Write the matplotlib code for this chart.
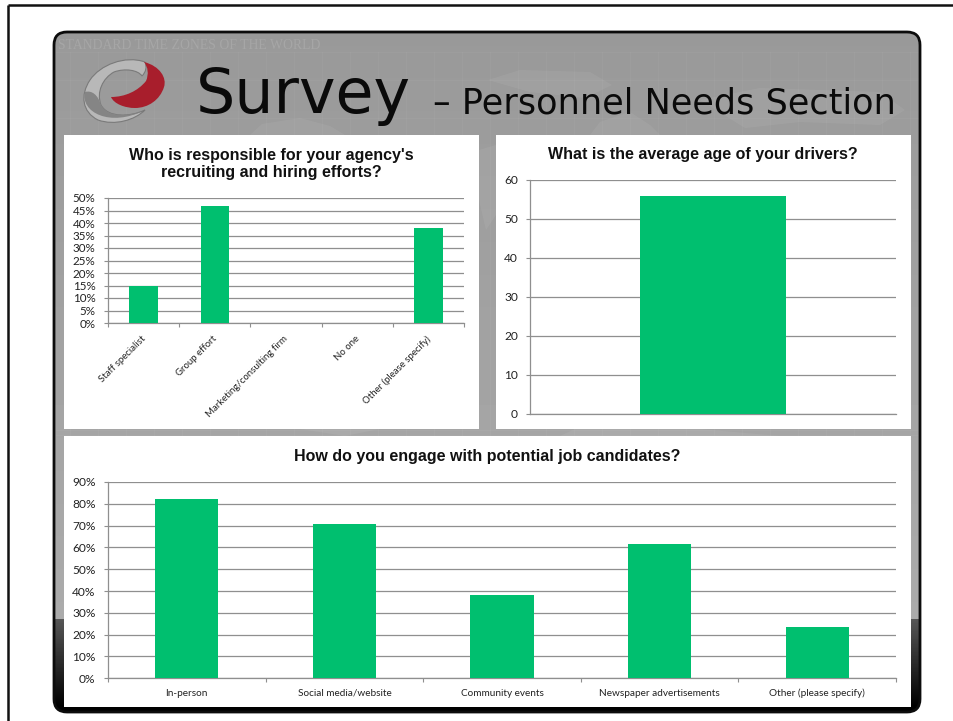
import numpy as np
import matplotlib
matplotlib.use("Agg")
import matplotlib.pyplot as plt
from matplotlib.patches import FancyBboxPatch, PathPatch, Rectangle
from matplotlib.path import Path
from matplotlib.transforms import ScaledTranslation

W, H = 954, 721
GREEN = "#00bf6f"
GRID = "#8f8f8f"
TICK_FONT = "Lato"

who_labels = ["Staff specialist", "Group effort", "Marketing/consulting firm", "No one", "Other (please specify)"]
who_values = [14.7, 47.0, 0, 0, 38.2]
who_ticks = [0, 5, 10, 15, 20, 25, 30, 35, 40, 45, 50]

age_values = [55.9]
age_ticks = [0, 10, 20, 30, 40, 50, 60]

engage_labels = ["In-person", "Social media/website", "Community events", "Newspaper advertisements", "Other (please specify)"]
engage_values = [82.4, 70.6, 38.2, 61.8, 23.5]
engage_ticks = [0, 10, 20, 30, 40, 50, 60, 70, 80, 90]

fig = plt.figure(figsize=(W / 100, H / 100), dpi=100, facecolor="white")

# whole page in pixel coords, for the slide behind the charts
bg = fig.add_axes([0, 0, 1, 1])
bg.axis("off")

# page border
bg.plot([8, 8], [721, 5], color="#111111", lw=1.8, solid_capstyle="butt")
bg.plot([8, 954], [5, 5], color="#111111", lw=1.8, solid_capstyle="butt")

# slide background, gray then dark fade at the bottom
rows = np.linspace(32, 712, 680)
shade = np.where(rows < 619, 0.60 + (rows - 32) / 587 * 0.07, 0.34 * (1 - (rows - 619) / 88).clip(0, 1))
img = bg.imshow(shade.reshape(-1, 1), extent=[54, 920, 712, 32], cmap="gray", vmin=0, vmax=1, aspect="auto", zorder=1)
frame = FancyBboxPatch((66, 44), 842, 656, boxstyle="round,pad=12,rounding_size=13", fc="none", ec="#0c0c0c", lw=2.0, zorder=3)
bg.add_patch(frame)
img.set_clip_path(frame)

# faint map lines
for x in np.arange(70, 920, 28):
    bg.plot([x, x], [52, 619], color="white", alpha=0.04, lw=0.7, zorder=1.5)
for y in [52, 80, 118, 430, 435]:
    bg.plot([56, 918], [y, y], color="white", alpha=0.04, lw=0.7, zorder=1.5)
bg.text(58, 45.5, "STANDARD TIME ZONES OF THE WORLD", family="Liberation Serif", fontsize=9.9,
        color="white", alpha=0.13, va="center", ha="left", zorder=2)

# lighter land masses
land = [
    [(250, 135), (262, 124), (300, 118), (330, 126), (345, 135)],
    [(488, 80), (520, 70), (590, 72), (612, 85), (585, 98), (530, 92)],
    [(590, 135), (600, 122), (630, 112), (650, 125), (660, 135)],
    [(700, 100), (760, 88), (880, 92), (905, 110), (880, 125), (800, 122), (745, 128)],
    [(479, 150), (496, 145), (496, 215), (486, 230), (479, 200)],
    [(575, 429), (700, 429), (780, 436), (560, 436)],
    [(300, 429), (380, 429), (345, 436)],
]
for pts in land:
    bg.fill(*zip(*pts), color="white", alpha=0.06, lw=0, zorder=1.6)

# logo
M, C = Path.MOVETO, Path.CURVE4
swoosh = Path(
    [(145, 62), (125, 55), (100, 65), (90, 80), (80, 95), (82, 112), (98, 120), (115, 126), (135, 120), (145, 110),
     (130, 117), (108, 118), (101, 105), (96, 92), (103, 78), (114, 72), (125, 68), (138, 70), (142, 76),
     (146, 72), (147, 67), (145, 62)],
    [M] + [C] * 21,
)
bg.add_patch(PathPatch(swoosh, fc="#b8b8b8", ec="#7a7a7a", lw=0.8, zorder=4))
shadow = Path(
    [(85, 92), (80, 112), (110, 128), (145, 110), (130, 117), (108, 118), (101, 105), (98, 95), (92, 90), (85, 92)],
    [M] + [C] * 9,
)
bg.add_patch(PathPatch(shadow, fc="#858585", ec="none", zorder=4.1))
red = Path(
    [(144, 62), (160, 66), (167, 78), (164, 87), (160, 100), (148, 108), (135, 108),
     (125, 108), (114, 104), (111, 97), (125, 97), (138, 91), (146, 81), (149, 74), (148, 67), (144, 62)],
    [M] + [C] * 15,
)
bg.add_patch(PathPatch(red, fc="#a81e2c", ec="none", zorder=4.2))

# slide title
bg.text(196, 113, "Survey", fontsize=44.5, color="#0a0a0a", family="DejaVu Sans", va="baseline", ha="left", zorder=5)
bg.text(433, 113, "– Personnel Needs Section", fontsize=25.3, color="#0a0a0a", family="DejaVu Sans",
        va="baseline", ha="left", zorder=5)

# white chart panels
for x0, y0, x1, y1 in [(64, 135, 479, 429), (496, 135, 911, 429), (64, 436, 911, 707)]:
    bg.add_patch(Rectangle((x0, y0), x1 - x0, y1 - y0, fc="white", ec="none", zorder=6))
bg.set_xlim(0, W)
bg.set_ylim(H, 0)


def chart_axes(x0, x1, ytop, ybottom):
    ax = fig.add_axes([x0 / W, 1 - ybottom / H, (x1 - x0) / W, (ybottom - ytop) / H])
    ax.patch.set_visible(False)
    for side in ["top", "right"]:
        ax.spines[side].set_visible(False)
    for side in ["left", "bottom"]:
        ax.spines[side].set_color(GRID)
        ax.spines[side].set_linewidth(0.9)
    ax.set_axisbelow(True)
    ax.yaxis.grid(True, color=GRID, lw=0.9)
    ax.tick_params(axis="y", length=3, width=0.8, color=GRID, pad=6, labelsize=8.6, labelcolor="#222222")
    ax.tick_params(axis="x", which="major", length=3, width=0.8, color=GRID)
    ax.tick_params(axis="x", which="minor", length=0, labelcolor="#222222")
    return ax


def category_setup(ax, labels, **kw):
    n = len(labels)
    ax.set_xlim(-0.5, n - 0.5)
    ax.set_xticks(np.arange(n + 1) - 0.5)
    ax.set_xticklabels([])
    ax.set_xticks(np.arange(n), minor=True)
    ax.set_xticklabels(labels, minor=True, family=TICK_FONT, **kw)


# chart 1
ax1 = chart_axes(108, 464, 198, 323)
ax1.bar(range(len(who_values)), who_values, width=0.4, color=GREEN, zorder=3)
category_setup(ax1, who_labels, fontsize=6.9, rotation=45, ha="right", rotation_mode="anchor")
ax1.tick_params(axis="x", which="minor", pad=8)
for lab in ax1.get_xticklabels(minor=True):
    lab.set_transform(lab.get_transform() + ScaledTranslation(-2.5 / 100, 0, fig.dpi_scale_trans))
ax1.set_ylim(0, 50)
ax1.set_yticks(who_ticks)
ax1.set_yticklabels([f"{t}%" for t in who_ticks], family=TICK_FONT)
ax1.tick_params(axis="y", pad=6, labelsize=8.4)
bg.text(271, 164, "Who is responsible for your agency's\nrecruiting and hiring efforts?", family="Liberation Sans",
        fontweight="bold", fontsize=11.5, ha="center", va="center", linespacing=1.12, color="#111111", zorder=7)

# chart 2
ax2 = chart_axes(530.5, 896, 180, 413.5)
ax2.bar([0], age_values, width=0.4, color=GREEN, zorder=3)
ax2.set_xlim(-0.5, 0.5)
ax2.set_xticks([])
ax2.set_ylim(0, 60)
ax2.set_yticks(age_ticks)
ax2.set_yticklabels([str(t) for t in age_ticks], family=TICK_FONT)
bg.text(703, 154.5, "What is the average age of your drivers?", family="Liberation Sans", fontweight="bold",
        fontsize=11.5, ha="center", va="center", color="#111111", zorder=7)

# chart 3
ax3 = chart_axes(108, 896, 482, 678.3)
ax3.bar(range(len(engage_values)), engage_values, width=0.4, color=GREEN, zorder=3)
category_setup(ax3, engage_labels, fontsize=7.2, va="baseline")
ax3.tick_params(axis="x", which="minor", pad=13)
# the slash label lands a pixel low otherwise
social = ax3.get_xticklabels(minor=True)[1]
social.set_transform(social.get_transform() + ScaledTranslation(0, 1 / 100, fig.dpi_scale_trans))
ax3.set_ylim(0, 90)
ax3.set_yticks(engage_ticks)
ax3.set_yticklabels([f"{t}%" for t in engage_ticks], family=TICK_FONT)
bg.text(487, 456.5, "How do you engage with potential job candidates?", family="Liberation Sans", fontweight="bold",
        fontsize=11.5, ha="center", va="center", color="#111111", zorder=7)

fig.savefig("out.png", dpi=100)
